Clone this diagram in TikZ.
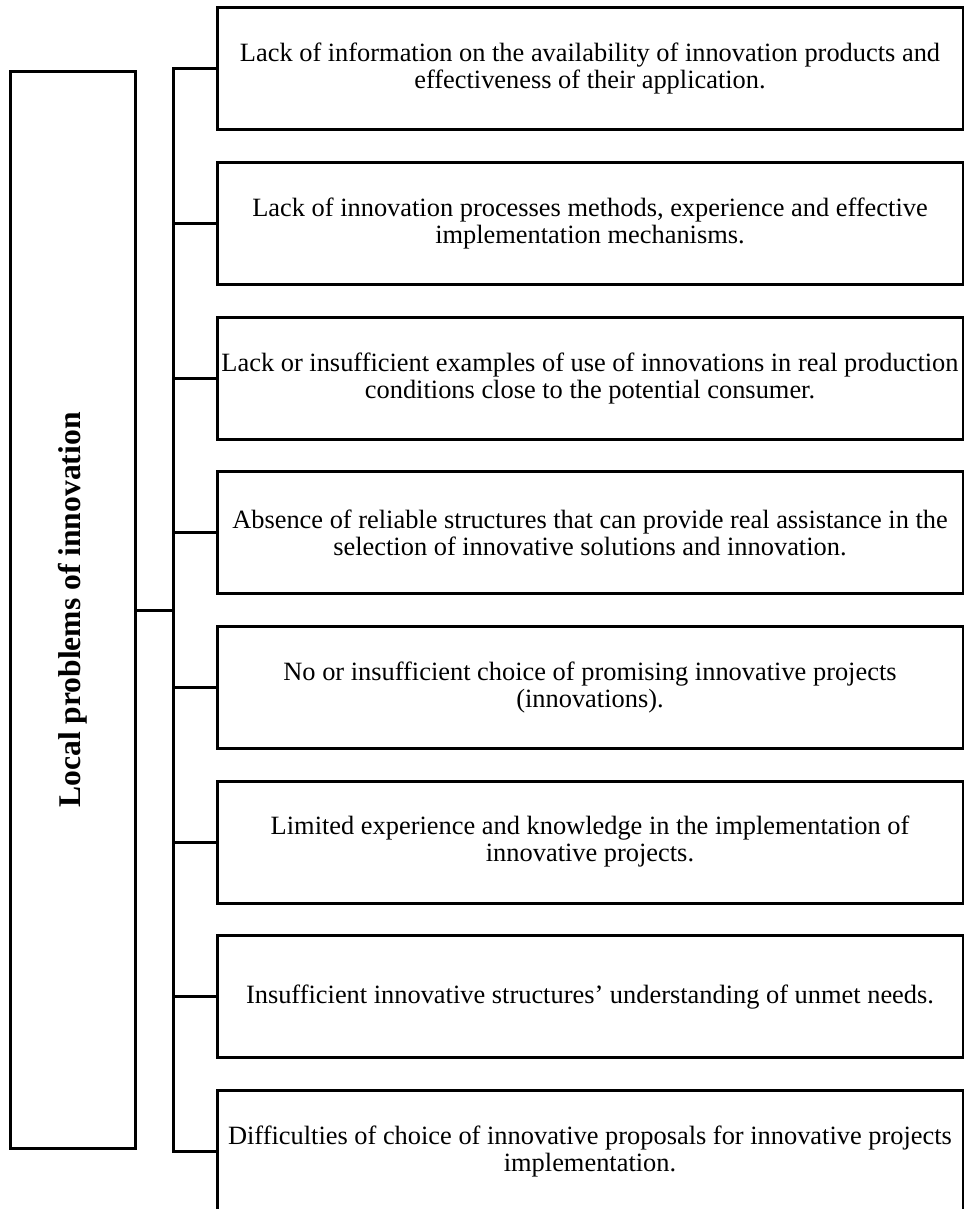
\documentclass[tikz,border=0pt]{standalone}
\usepackage{fontspec}
\setmainfont{Liberation Serif}
\usetikzlibrary{positioning}

\begin{document}
\begin{tikzpicture}[x=0.5pt, y=-0.5pt, node distance=77.3pt, on grid, line width=1.5pt,
    problem/.style={draw, line width=1.5pt, minimum width=373pt, minimum height=61pt, inner sep=0pt, align=center, font=\fontsize{13.2}{13.5}\selectfont},
    topic/.style={draw, line width=1.5pt, rotate=90, minimum width=538pt, minimum height=62.5pt, inner sep=0pt, font=\fontsize{15.8}{17}\selectfont\bfseries}]
        \useasboundingbox (0,0) rectangle (963,1209);

        \node[problem]  (p1) at (590,69)  {Lack of information on the availability of innovation products and\\ effectiveness of their application.};
        \node[problem]  (p2) [below=of p1] {Lack of innovation processes methods, experience and effective\\ implementation mechanisms.};
        \node[problem]  (p3) [below=of p2] {Lack or insufficient examples of use of innovations in real production\\ conditions close to the potential consumer.};
        \node[problem]  (p4) [below=of p3] {Absence of reliable structures that can provide real assistance in the\\ selection of innovative solutions and innovation.};
        \node[problem]  (p5) [below=of p4] {No or insufficient choice of promising innovative projects\\ (innovations).};
        \node[problem]  (p6) [below=of p5] {Limited experience and knowledge in the implementation of\\ innovative projects.};
        \node[problem]  (p7) [below=of p6] {Insufficient innovative structures’ understanding of unmet needs.};
        \node[problem]  (p8) [below=of p7] {Difficulties of choice of innovative proposals for innovative projects\\ implementation.};

        \node[topic]    (local) at (72.5,610) {Local problems of innovation};

        \coordinate[left=21pt of p1.west] (b1);

        \draw (p1.west) -- (b1) |- (p8.west);
        \foreach \i in {2,...,7}
            \draw (p\i.west) -- (p\i.west -| b1);
        \draw (local.south) -- (local.south -| b1);
\end{tikzpicture}
\end{document}
